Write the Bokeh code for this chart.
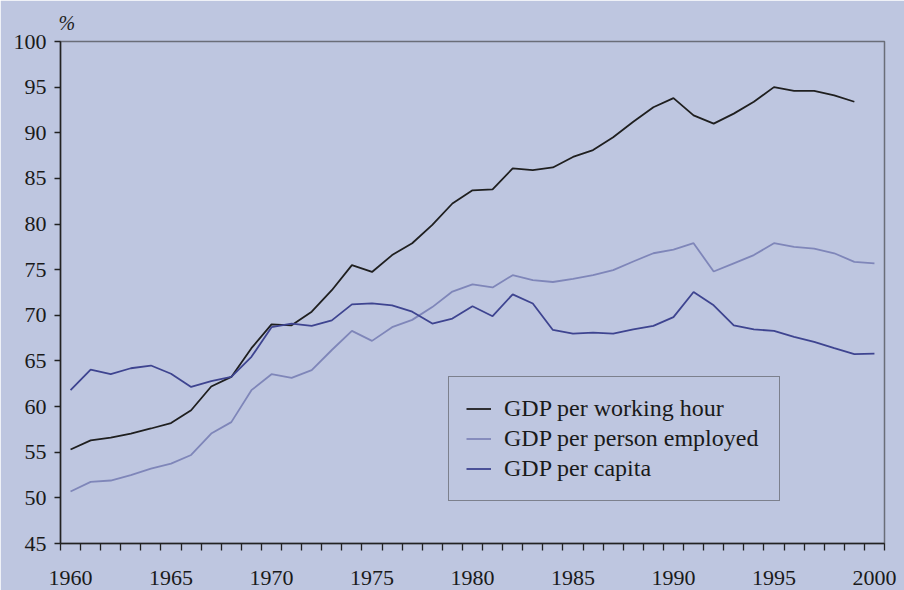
from bokeh.plotting import figure
from bokeh.models import FixedTicker, Legend, LegendItem
from bokeh.embed import file_html
from bokeh.resources import INLINE

years = list(range(1960, 2001))
years_hour = list(range(1960, 2000))

gdp_per_working_hour = [55.3, 56.3, 56.6, 57.05, 57.6, 58.2, 59.6, 62.2, 63.25, 66.4,
                        69.0, 68.9, 70.4, 72.75, 75.5, 74.75, 76.6, 77.9, 79.9, 82.25,
                        83.7, 83.8, 86.1, 85.9, 86.2, 87.35, 88.1, 89.5, 91.2, 92.8,
                        93.8, 91.9, 91.0, 92.1, 93.4, 95.0, 94.6, 94.6, 94.1, 93.4]
gdp_per_person_employed = [50.7, 51.75, 51.9, 52.5, 53.2, 53.75, 54.7, 57.05, 58.3, 61.8,
                           63.55, 63.15, 64.0, 66.2, 68.3, 67.2, 68.7, 69.5, 70.9, 72.6,
                           73.4, 73.05, 74.4, 73.85, 73.65, 74.0, 74.4, 74.95, 75.9, 76.8,
                           77.2, 77.9, 74.8, 75.7, 76.6, 77.9, 77.5, 77.3, 76.8, 75.85, 75.7]
gdp_per_capita = [61.8, 64.05, 63.55, 64.2, 64.5, 63.6, 62.15, 62.8, 63.25, 65.45,
                  68.7, 69.1, 68.85, 69.45, 71.2, 71.3, 71.1, 70.4, 69.1, 69.65,
                  71.0, 69.9, 72.3, 71.3, 68.4, 68.0, 68.1, 68.0, 68.45, 68.85,
                  69.8, 72.55, 71.1, 68.9, 68.45, 68.3, 67.65, 67.1, 66.4, 65.75, 65.8]

x_tick_labels = [1960, 1965, 1970, 1975, 1980, 1985, 1990, 1995, 2000]
y_ticks = [45, 50, 55, 60, 65, 70, 75, 80, 85, 90, 95, 100]
series_names = ["GDP per working hour", "GDP per person employed", "GDP per capita"]
series_colors = ["#1f1f1f", "#7f86b9", "#3e4490"]

BG = "#bec6e0"
FONT = "Liberation Serif"

p = figure(width=904, height=590, output_backend="svg", toolbar_location=None,
           x_range=(1959.5, 2000.5), y_range=(45, 100),
           min_border_left=60, min_border_right=20, min_border_top=41, min_border_bottom=47)
p.background_fill_color = BG
p.border_fill_color = BG
p.outline_line_color = "#6a6d78"
p.outline_line_width = 1.5
p.grid.visible = False

p.title.text = "%"
p.title.align = "left"
p.title.offset = -2
p.title.standoff = 15
p.title.text_font = FONT
p.title.text_font_size = "20px"
p.title.text_font_style = "italic"
p.title.text_color = "#222222"

# x axis
p.xaxis.ticker = FixedTicker(ticks=x_tick_labels,
                             minor_ticks=[y - 0.5 for y in years] + [2000.5])
p.xaxis.major_tick_out = 0
p.xaxis.major_tick_in = 0
p.xaxis.minor_tick_out = 7
p.xaxis.minor_tick_in = 0
p.xaxis.minor_tick_line_color = "#222222"
p.xaxis.minor_tick_line_width = 1.3
p.xaxis.axis_line_color = "#222222"
p.xaxis.axis_line_width = 1.5
p.xaxis.major_label_standoff = 20

# y axis
p.yaxis.ticker = FixedTicker(ticks=y_ticks, minor_ticks=[])
p.yaxis.major_tick_out = 6
p.yaxis.major_tick_in = 0
p.yaxis.major_tick_line_color = "#222222"
p.yaxis.major_tick_line_width = 1.3
p.yaxis.axis_line_color = "#222222"
p.yaxis.axis_line_width = 1.5
p.yaxis.major_label_standoff = 8

for ax in (p.xaxis, p.yaxis):
    ax.major_label_text_font = FONT
    ax.major_label_text_font_size = "22px"
    ax.major_label_text_color = "#1a1a1a"

r1 = p.line(years_hour, gdp_per_working_hour, line_color=series_colors[0], line_width=1.8)
r2 = p.line(years, gdp_per_person_employed, line_color=series_colors[1], line_width=1.8)
r3 = p.line(years, gdp_per_capita, line_color=series_colors[2], line_width=1.8)

legend = Legend(items=[LegendItem(label=series_names[0], renderers=[r1]),
                       LegendItem(label=series_names[1], renderers=[r2]),
                       LegendItem(label=series_names[2], renderers=[r3])],
                location=(388, 42))
legend.background_fill_color = BG
legend.background_fill_alpha = 1
legend.border_line_color = "#3a3a3a"
legend.border_line_width = 1.5
legend.label_text_font = FONT
legend.label_text_font_size = "24px"
legend.label_text_color = "#1a1a1a"
legend.padding = 17
legend.spacing = 1
legend.margin = 0
legend.glyph_width = 25
legend.glyph_height = 29
legend.label_height = 29
legend.label_width = 258
legend.label_standoff = 13
p.add_layout(legend, "center")

open("out.html", "w").write(file_html(p, INLINE))
